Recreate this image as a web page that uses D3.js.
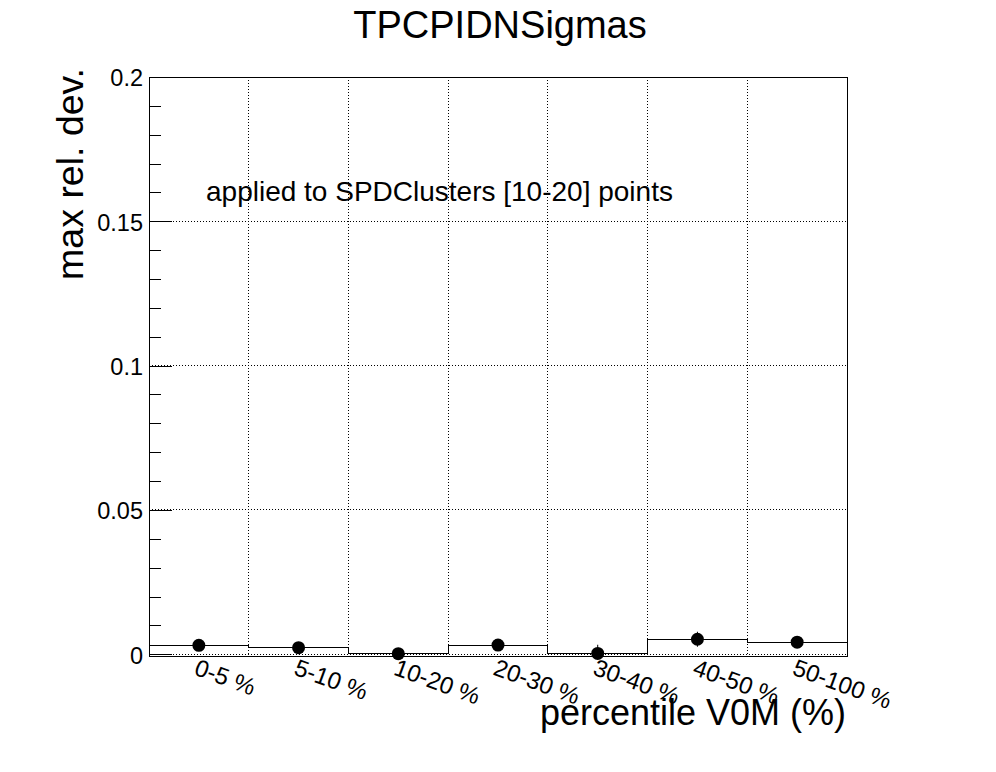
<!DOCTYPE html>
<html>
<head>
<meta charset="utf-8">
<script src="https://cdn.jsdelivr.net/npm/d3@7"></script>
<style>
  body { margin: 0; background: #fff; }
  svg { display: block; font-family: "Liberation Sans", Arial, sans-serif; }
</style>
</head>
<body>
<svg id="chart" width="996" height="772"></svg>
<script>
// Data
var categories = ["0-5 %", "5-10 %", "10-20 %", "20-30 %", "30-40 %", "40-50 %", "50-100 %"];
var values = [0.0031, 0.0023, 0.0002, 0.0032, 0.0003, 0.0052, 0.0042];
var errors = [0, 0, 0, 0, 0.003, 0.0026, 0];
var yTicks = [0, 0.05, 0.1, 0.15, 0.2];
var yMinorTicks = d3.range(0, 21).map(function (i) { return i / 100; });

var svg = d3.select("#chart");
var frame = { left: 149, right: 847, top: 77, bottom: 656 };

var x = d3.scaleBand().domain(categories).range([frame.left, frame.right]).padding(0);
var y = d3.scaleLinear().domain([-0.0006, 0.2]).range([frame.bottom, frame.top]);

svg.append("clipPath").attr("id", "clip")
  .append("rect")
  .attr("x", frame.left).attr("y", frame.top)
  .attr("width", frame.right - frame.left).attr("height", frame.bottom - frame.top);

// Grid (dotted)
var grid = svg.append("g").attr("stroke", "#000").attr("stroke-width", 1)
  .attr("stroke-dasharray", "1,2").attr("shape-rendering", "crispEdges");
grid.selectAll(".gx").data(categories.slice(1)).enter().append("line")
  .attr("x1", function (d) { return x(d); }).attr("x2", function (d) { return x(d); })
  .attr("y1", frame.top).attr("y2", frame.bottom);
grid.selectAll(".gy").data(yTicks).enter().append("line")
  .attr("x1", frame.left).attr("x2", frame.right)
  .attr("y1", function (d) { return y(d); }).attr("y2", function (d) { return y(d); });

// Histogram outline
var bw = x.bandwidth();
var pts = [[frame.left, y(0)]];
values.forEach(function (v, i) {
  var x0 = x(categories[i]);
  pts.push([x0, y(v)]);
  pts.push([x0 + bw, y(v)]);
});
pts.push([frame.right, y(0)]);
svg.append("path")
  .attr("d", d3.line()(pts))
  .attr("fill", "none").attr("stroke", "#000").attr("stroke-width", 1)
  .attr("shape-rendering", "crispEdges")
  .attr("clip-path", "url(#clip)");

// Error bars and markers
var pg = svg.append("g").attr("clip-path", "url(#clip)");
pg.selectAll(".err").data(values).enter().append("line")
  .attr("x1", function (d, i) { return x(categories[i]) + bw / 2; })
  .attr("x2", function (d, i) { return x(categories[i]) + bw / 2; })
  .attr("y1", function (d, i) { return y(d - errors[i]); })
  .attr("y2", function (d, i) { return y(d + errors[i]); })
  .attr("stroke", "#000").attr("stroke-width", 1);
svg.selectAll(".pt").data(values).enter().append("circle")
  .attr("cx", function (d, i) { return x(categories[i]) + bw / 2; })
  .attr("cy", function (d) { return y(d); })
  .attr("r", 6.5).attr("fill", "#000");

// Frame
svg.append("rect")
  .attr("x", frame.left).attr("y", frame.top)
  .attr("width", frame.right - frame.left).attr("height", frame.bottom - frame.top)
  .attr("fill", "none").attr("stroke", "#000").attr("stroke-width", 1)
  .attr("shape-rendering", "crispEdges");

// Y axis (ticks inside)
var yAxis = d3.axisLeft(y).tickValues(yTicks).tickSize(-23).tickPadding(6)
  .tickFormat(function (d) { return d === 0 ? "0" : d3.format("")(+d.toFixed(2)); });
var gy = svg.append("g").attr("transform", "translate(" + frame.left + ",0)").call(yAxis);
gy.select(".domain").remove();
gy.selectAll("line").attr("shape-rendering", "crispEdges");
gy.selectAll("text").attr("font-size", 23.5).attr("font-family", "Liberation Sans, Arial, sans-serif")
  .attr("fill", "#000").attr("dy", "0.38em");

var yMinor = d3.axisLeft(y).tickValues(yMinorTicks.filter(function (d) { return Math.round(d * 100) % 5 !== 0; }))
  .tickSize(-12).tickFormat("");
var gym = svg.append("g").attr("transform", "translate(" + frame.left + ",0)").call(yMinor);
gym.select(".domain").remove();
gym.selectAll("line").attr("shape-rendering", "crispEdges");

// X labels (rotated)
svg.selectAll(".xl").data(categories).enter().append("text")
  .attr("transform", function (d) { return "translate(" + (x(d) + bw / 2) + ",658) rotate(20)"; })
  .attr("dy", "0.72em")
  .attr("font-size", 24).attr("fill", "#000")
  .text(function (d) { return d; });

// Titles
svg.append("text").attr("x", 500).attr("y", 38).attr("text-anchor", "middle")
  .attr("font-size", 38).text("TPCPIDNSigmas");
svg.append("text").attr("transform", "translate(83,68) rotate(-90)").attr("text-anchor", "end")
  .attr("font-size", 37.5).text("max rel. dev.");
svg.append("text").attr("x", 846).attr("y", 725).attr("text-anchor", "end")
  .attr("font-size", 36).text("percentile V0M (%)");
svg.append("text").attr("x", 206).attr("y", 201)
  .attr("font-size", 28).text("applied to SPDClusters [10-20] points");
</script>
</body>
</html>
